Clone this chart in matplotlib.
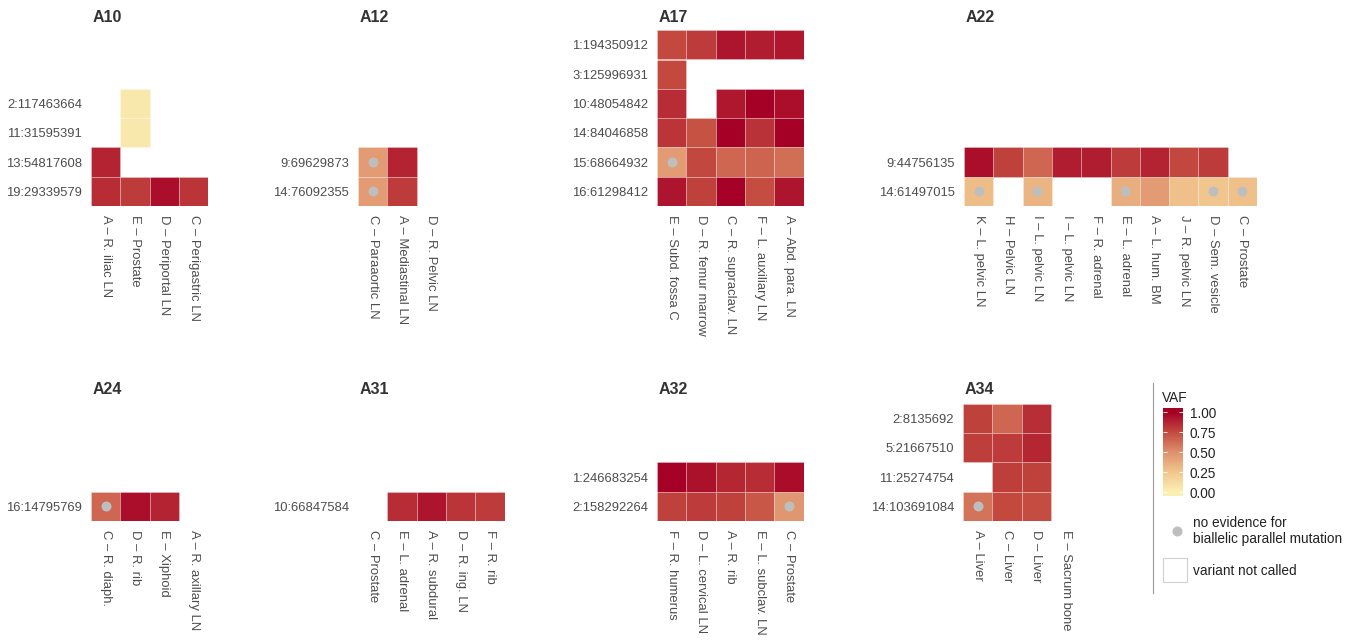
import numpy as np
import matplotlib
matplotlib.use("Agg")
import matplotlib.pyplot as plt
from matplotlib.colors import LinearSegmentedColormap
from matplotlib.patches import Rectangle

plt.rcParams['font.family'] = ['Liberation Sans', 'DejaVu Sans']

nan = np.nan

# VAF per site (rows) and sample (columns); nan = variant not called
a10_rows = ['2:117463664', '11:31595391', '13:54817608', '19:29339579']
a10_cols = ['A – R. iliac LN', 'E – Prostate', 'D – Periportal LN', 'C – Perigastric LN']
a10_vaf = [[nan, 0.05, nan, nan],
           [nan, 0.05, nan, nan],
           [0.88, nan, nan, nan],
           [0.85, 0.80, 0.95, 0.82]]
a10_dots = [[0, 0, 0, 0], [0, 0, 0, 0], [0, 0, 0, 0], [0, 0, 0, 0]]

a12_rows = ['9:69629873', '14:76092355']
a12_cols = ['C – Paraaortic LN', 'A – Mediastinal LN', 'D – R. Pelvic LN']
a12_vaf = [[0.45, 0.88, nan],
           [0.45, 0.80, nan]]
a12_dots = [[1, 0, 0], [1, 0, 0]]

a17_rows = ['1:194350912', '3:125996931', '10:48054842', '14:84046858',
            '15:68664932', '16:61298412']
a17_cols = ['E – Subd. fossa C', 'D – R. femur marrow', 'C – R. supraclav. LN',
            'F – L. auxiliary LN', 'A – Abd. para. LN']
a17_vaf = [[0.75, 0.80, 0.93, 0.90, 0.92],
           [0.75, nan, nan, nan, nan],
           [0.85, nan, 0.92, 1.00, 0.95],
           [0.82, 0.72, 1.00, 0.83, 1.00],
           [0.45, 0.76, 0.65, 0.66, 0.62],
           [0.93, 0.78, 1.00, 0.74, 0.93]]
a17_dots = [[0, 0, 0, 0, 0], [0, 0, 0, 0, 0], [0, 0, 0, 0, 0],
            [0, 0, 0, 0, 0], [1, 0, 0, 0, 0], [0, 0, 0, 0, 0]]

a22_rows = ['9:44756135', '14:61497015']
a22_cols = ['K – L. pelvic LN', 'H – Pelvic LN', 'I – L. pelvic LN', 'I – L. pelvic LN',
            'F – R. adrenal', 'E – L. adrenal', 'A – L. hum. BM', 'J – R. pelvic LN',
            'D – Sem. vesicle', 'C – Prostate']
a22_vaf = [[0.95, 0.78, 0.65, 0.90, 0.90, 0.80, 0.88, 0.76, 0.80, nan],
           [0.30, nan, 0.33, nan, nan, 0.36, 0.45, 0.28, 0.25, 0.28]]
a22_dots = [[0, 0, 0, 0, 0, 0, 0, 0, 0, 0],
            [1, 0, 1, 0, 0, 1, 0, 0, 1, 1]]

a24_rows = ['16:14795769']
a24_cols = ['C – R. diaph.', 'D – R. rib', 'E – Xiphoid', 'A – R. axillary LN']
a24_vaf = [[0.65, 0.95, 0.88, nan]]
a24_dots = [[1, 0, 0, 0]]

a31_rows = ['10:66847584']
a31_cols = ['C – Prostate', 'E – L. adrenal', 'A – R. subdural', 'D – R. ing. LN', 'F – R. rib']
a31_vaf = [[nan, 0.85, 0.93, 0.82, 0.80]]
a31_dots = [[0, 0, 0, 0, 0]]

a32_rows = ['1:246683254', '2:158292264']
a32_cols = ['F – R. humerus', 'D – L. cervical LN', 'A – R. rib', 'E – L. subclav. LN', 'C – Prostate']
a32_vaf = [[1.00, 0.94, 0.87, 0.85, 0.96],
           [0.78, 0.80, 0.78, 0.70, 0.47]]
a32_dots = [[0, 0, 0, 0, 0], [0, 0, 0, 0, 1]]

a34_rows = ['2:8135692', '5:21667510', '11:25274754', '14:103691084']
a34_cols = ['A – Liver', 'C – Liver', 'D – Liver', 'E – Sacrum bone']
a34_vaf = [[0.78, 0.65, 0.84, nan],
           [0.79, 0.80, 0.87, nan],
           [nan, 0.79, 0.78, nan],
           [0.60, 0.75, 0.74, nan]]
a34_dots = [[0, 0, 0, 0], [0, 0, 0, 0], [0, 0, 0, 0], [1, 0, 0, 0]]

vaf_cmap = LinearSegmentedColormap.from_list(
    'vaf', [(0.0, '#FBF0B3'), (0.25, '#F1C68E'), (0.5, '#DE906C'),
            (0.75, '#C34A3F'), (1.0, '#A50026')])

W, H = 1353, 640
CELL = 29.3
TXT = '#4D4D4D'
FS = 9.4

fig = plt.figure(figsize=(W / 100, H / 100), dpi=100)


def heatmap(name, rows, cols, vaf, dots, left, bottom, title_y):
    nr, nc = len(rows), len(cols)
    ax = fig.add_axes([left / W, 1 - bottom / H, nc * CELL / W, nr * CELL / H])
    vals = np.array(vaf, dtype=float)
    for r in range(nr):
        for c in range(nc):
            if not np.isnan(vals[r, c]):
                ax.add_patch(Rectangle((c, r), 1, 1, facecolor=vaf_cmap(vals[r, c]),
                                       edgecolor=(1, 1, 1, 0.35), linewidth=0.5))
    dr, dc = np.nonzero(np.array(dots))
    ax.scatter(dc + 0.5, dr + 0.5, s=52, color='#BEBEBE', linewidths=0, zorder=3)
    ax.set_xlim(0, nc)
    ax.set_ylim(nr, 0)
    ax.set_xticks(np.arange(nc) + 0.5)
    ax.set_xticklabels(cols, rotation=270, va='top', ha='center')
    ax.set_yticks(np.arange(nr) + 0.5)
    ax.set_yticklabels(rows)
    ax.tick_params(length=0, pad=6.5, labelsize=FS, labelcolor=TXT)
    for s in ax.spines.values():
        s.set_visible(False)
    fig.text((left + 2) / W, 1 - title_y / H, name, fontsize=11.5, fontweight='bold',
             color='#333333', ha='left', va='center')


heatmap('A10', a10_rows, a10_cols, a10_vaf, a10_dots, 91, 206, 18)
heatmap('A12', a12_rows, a12_cols, a12_vaf, a12_dots, 358, 206, 18)
heatmap('A17', a17_rows, a17_cols, a17_vaf, a17_dots, 657, 206, 18)
heatmap('A22', a22_rows, a22_cols, a22_vaf, a22_dots, 964, 206, 18)
heatmap('A24', a24_rows, a24_cols, a24_vaf, a24_dots, 91, 521, 390)
heatmap('A31', a31_rows, a31_cols, a31_vaf, a31_dots, 358, 521, 390)
heatmap('A32', a32_rows, a32_cols, a32_vaf, a32_dots, 657, 521, 390)
heatmap('A34', a34_rows, a34_cols, a34_vaf, a34_dots, 963, 521, 390)

# legend: separator line
fig.add_artist(plt.Line2D([1153 / W, 1153 / W], [1 - 383 / H, 1 - 593 / H],
                          color='#9A9A9A', linewidth=0.8))

# colour bar
cb_top, cb_bot = 408, 496
v_top = 1 + (412 - cb_top) / 80
v_bot = -(cb_bot - 492) / 80
cax = fig.add_axes([1163 / W, 1 - cb_bot / H, 20 / W, (cb_bot - cb_top) / H])
grad = np.clip(np.linspace(v_bot, v_top, 300), 0, 1)[:, None]
cax.imshow(grad, aspect='auto', cmap=vaf_cmap, vmin=0, vmax=1, origin='lower',
           extent=[0, 1, v_bot, v_top])
cax.set_xlim(0, 1)
cax.set_ylim(v_bot, v_top)
ticks = [0, 0.25, 0.5, 0.75, 1.0]
cax.hlines(ticks, 0, 0.2, color='white', linewidth=0.6)
cax.hlines(ticks, 0.8, 1, color='white', linewidth=0.6)
cax.yaxis.tick_right()
cax.set_yticks(ticks)
cax.set_yticklabels(['%.2f' % t for t in ticks])
cax.set_xticks([])
cax.tick_params(length=0, pad=5, labelsize=9.8, labelcolor='#222222')
for s in cax.spines.values():
    s.set_visible(False)
fig.text(1162 / W, 1 - 398 / H, 'VAF', fontsize=9.8, color='#222222', ha='left', va='center')

# dot and empty-tile keys
lax = fig.add_axes([0, 0, 1, 1], facecolor='none')
lax.set_xlim(0, W)
lax.set_ylim(H, 0)
lax.axis('off')
lax.scatter([1177], [531], s=52, color='#BEBEBE', linewidths=0)
lax.text(1193, 531, 'no evidence for\nbiallelic parallel mutation', fontsize=9.8,
         color='#222222', ha='left', va='center', linespacing=1.15)
lax.add_patch(Rectangle((1163, 558), 24, 24, facecolor='white', edgecolor='#D0D0D0', linewidth=0.8))
lax.text(1193, 571, 'variant not called', fontsize=9.8, color='#222222', ha='left', va='center')

fig.savefig('out.png', dpi=100)
